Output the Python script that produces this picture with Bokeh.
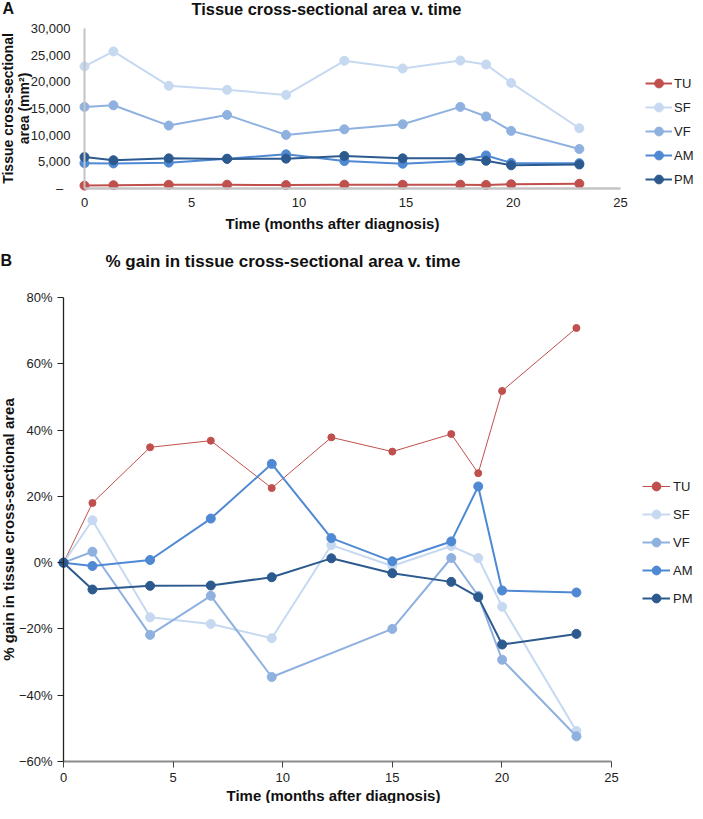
import math
from bokeh.plotting import figure
from bokeh.models import (Label, Legend, LegendItem, FixedTicker,
                          CustomJSTickFormatter, Range1d)
from bokeh.layouts import column
from bokeh.embed import file_html
from bokeh.resources import INLINE

# ---------------- data ----------------
series = ["TU", "SF", "VF", "AM", "PM"]
colors = ["#c0504d", "#c6d9f1", "#8fb1e0", "#4f89d3", "#2d5a8e"]

# Panel A: tissue cross-sectional area (mm^2)
time_a = [0, 1.35, 3.93, 6.65, 9.40, 12.12, 14.84, 17.53, 18.73, 19.90, 23.08]
area_tu = [540, 620, 700, 710, 640, 715, 700, 720, 660, 790, 890]
area_sf = [22900, 25700, 19250, 18500, 17550, 23950, 22500, 24000, 23250, 19800, 11300]
area_vf = [15300, 15600, 11800, 13800, 10050, 11100, 12050, 15300, 13500, 10800, 7400]
area_am = [4750, 4700, 4850, 5600, 6400, 5150, 4650, 5150, 6200, 4800, 4750]
area_pm = [5900, 5300, 5650, 5550, 5600, 6100, 5650, 5650, 5200, 4350, 4500]

# Panel B: % gain in tissue cross-sectional area
time_b = [0, 1.32, 3.95, 6.72, 9.50, 12.22, 15.00, 17.69, 18.92, 20.01, 23.40]
gain_tu = [0, 18.0, 34.8, 36.8, 22.5, 37.8, 33.5, 38.8, 27.0, 51.8, 70.8]
gain_sf = [0, 12.8, -16.5, -18.5, -22.8, 5.3, -1.0, 5.0, 1.4, -13.3, -50.8]
gain_vf = [0, 3.3, -21.8, -10.0, -34.5, None, -20.0, 1.4, -10.0, -29.3, -52.4]
gain_am = [0, -1.0, 0.8, 13.3, 29.8, 7.4, 0.4, 6.4, 23.0, -8.4, -9.0]
gain_pm = [0, -8.1, -7.0, -6.9, -4.4, 1.3, -3.2, -5.8, -10.4, -24.7, -21.5]

x_ticks = [0, 5, 10, 15, 20, 25]
area_ticks = [0, 5000, 10000, 15000, 20000, 25000, 30000]
gain_ticks = [-60, -40, -20, 0, 20, 40, 60, 80]
x_span = (0, 25)
area_span = (0, 30000)
gain_span = (-60, 80)

FONT = "Liberation Sans"
TXT = "#222222"
PAGE = 8          # body margin of the page
W = 695           # canvas width (page x 8..703)


class Geo:
    """Maps page pixels to data units for a figure whose frame fills its canvas."""
    def __init__(self, top, height, xcal, ycal):
        self.top, self.height = top, height
        (self.xp0, self.xd0, self.xp1, self.xd1) = xcal
        (self.yp0, self.yd0, self.yp1, self.yd1) = ycal

    def dx(self, X):
        return self.xd0 + (X - self.xp0) * (self.xd1 - self.xd0) / (self.xp1 - self.xp0)

    def dy(self, Y):
        return self.yd0 + (Y - self.yp0) * (self.yd1 - self.yd0) / (self.yp1 - self.yp0)

    def x_range(self):
        return Range1d(self.dx(PAGE), self.dx(PAGE + W))

    def y_range(self):
        return Range1d(self.dy(self.top + self.height), self.dy(self.top))


def add_text(p, g, text, X, Y, size, bold=True, align="left", angle=0.0):
    p.add_layout(Label(x=g.dx(X), y=g.dy(Y), text=text,
                       text_font=FONT, text_font_size=size,
                       text_font_style="bold" if bold else "normal",
                       text_color="#111111", text_align=align,
                       text_baseline="middle", angle=angle))


def make_fig(g, xs_span, ys_span):
    p = figure(width=W, height=g.height, x_range=g.x_range(),
               y_range=g.y_range(), output_backend="svg",
               toolbar_location=None, tools="", min_border=0,
               min_border_left=0, min_border_right=0,
               min_border_top=0, min_border_bottom=0)
    p.xgrid.visible = False
    p.ygrid.visible = False
    p.outline_line_color = None
    p.background_fill_color = "white"
    p.border_fill_color = "white"
    p.xaxis.fixed_location = ys_span[0]
    p.yaxis.fixed_location = xs_span[0]
    p.xaxis.bounds = xs_span
    p.yaxis.bounds = ys_span
    for ax in (p.xaxis[0], p.yaxis[0]):
        ax.major_label_text_font = FONT
        ax.major_label_text_font_size = "13px"
        ax.major_label_text_color = TXT
        ax.minor_tick_line_color = None
        ax.major_tick_in = 0
    return p


def make_legend(g, renderers, left_px, bottom_px, spacing, standoff, gw):
    items = [LegendItem(label=s, renderers=r) for s, r in zip(series, renderers)]
    return Legend(items=items,
                  location=(left_px - PAGE, g.top + g.height - bottom_px),
                  orientation="vertical",
                  glyph_width=gw, glyph_height=22, label_height=22,
                  spacing=spacing, padding=0, margin=0,
                  border_line_color=None, background_fill_alpha=0,
                  label_standoff=standoff, label_text_font=FONT,
                  label_text_font_size="13px", label_text_color=TXT)


# ---------------- Panel A ----------------
# page px calibration: x 0 -> 92, 25 -> 628 ; y 0 -> 196, 30000 -> 36
gA = Geo(top=8, height=232, xcal=(92, 0, 628, 25), ycal=(196, 0, 36, 30000))
pA = make_fig(gA, x_span, area_span)
pA.xaxis.ticker = FixedTicker(ticks=x_ticks)
pA.yaxis.ticker = FixedTicker(ticks=area_ticks)
pA.yaxis.formatter = CustomJSTickFormatter(
    code="return tick == 0 ? '\\u2013\\u00a0\\u00a0' : tick.toLocaleString('en-US');")
for ax in (pA.xaxis[0], pA.yaxis[0]):
    ax.major_tick_line_color = None
    ax.major_tick_out = 0
    ax.axis_line_color = "#c4c4c4"
pA.yaxis.axis_line_width = 2
pA.xaxis.axis_line_width = 2.5
pA.yaxis.major_label_standoff = 14
pA.xaxis.major_label_standoff = 9

a_vals = [area_tu, area_sf, area_vf, area_am, area_pm]
rendA = []
for vals, c in zip(a_vals, colors):
    l = pA.line(time_a, vals, line_color=c, line_width=2)
    s = pA.scatter(time_a, vals, marker="circle", size=9, fill_color=c,
                   line_color=c)
    rendA.append([l, s])
pA.add_layout(make_legend(gA, rendA, 653, 198, 2, 2, 27))

add_text(pA, gA, "A", 10, 16, "16px")
add_text(pA, gA, "Tissue cross-sectional area v. time", 199, 16, "16.4px")
add_text(pA, gA, "Tissue cross-sectional", 15, 116, "14px",
         align="center", angle=math.pi / 2)
add_text(pA, gA, "area (mm\u00b2)", 31, 116, "14px",
         align="center", angle=math.pi / 2)
add_text(pA, gA, "Time (months after diagnosis)", 340, 231, "15px",
         align="center")

# ---------------- Panel B ----------------
# page px calibration: x 0 -> 71, 25 -> 619 ; y -60 -> 769, 80 -> 305
gB = Geo(top=240, height=571, xcal=(71, 0, 619, 25), ycal=(769, -60, 305, 80))
pB = make_fig(gB, x_span, gain_span)
pB.xaxis.ticker = FixedTicker(ticks=x_ticks)
pB.yaxis.ticker = FixedTicker(ticks=gain_ticks)
pB.yaxis.formatter = CustomJSTickFormatter(
    code="return (tick < 0 ? '\\u2212' : '') + Math.abs(tick) + '%';")
pB.yaxis.axis_line_color = "#222222"
pB.yaxis.axis_line_width = 1.3
pB.yaxis.major_tick_line_color = "#222222"
pB.yaxis.major_tick_out = 6
pB.yaxis.major_label_standoff = 5
pB.xaxis.axis_line_color = "#8c8c8c"
pB.xaxis.axis_line_width = 2
pB.xaxis.major_tick_line_color = "#444444"
pB.xaxis.major_tick_out = 6
pB.xaxis.major_label_standoff = 5

b_vals = [gain_tu, gain_sf, gain_vf, gain_am, gain_pm]
rendB = []
for i, (vals, c) in enumerate(zip(b_vals, colors)):
    xs = [t for t, v in zip(time_b, vals) if v is not None]
    ys = [v for v in vals if v is not None]
    lw, ms = (1, 7) if i == 0 else (2, 9)
    l = pB.line(xs, ys, line_color=c, line_width=lw)
    s = pB.scatter(xs, ys, marker="circle", size=ms, fill_color=c, line_color=c)
    rendB.append([l, s])
pB.add_layout(make_legend(gB, rendB, 650, 617, 6, 3, 28))

add_text(pB, gB, "B", 8, 268, "16px")
add_text(pB, gB, "% gain in tissue cross-sectional area v. time", 113, 269, "17px")
add_text(pB, gB, "% gain in tissue cross-sectional area", 16, 537, "15px",
         align="center", angle=math.pi / 2)
add_text(pB, gB, "Time (months after diagnosis)", 341, 803, "15px",
         align="center")

layout = column(pA, pB, spacing=0)

open("out.html", "w").write(file_html(layout, INLINE))
